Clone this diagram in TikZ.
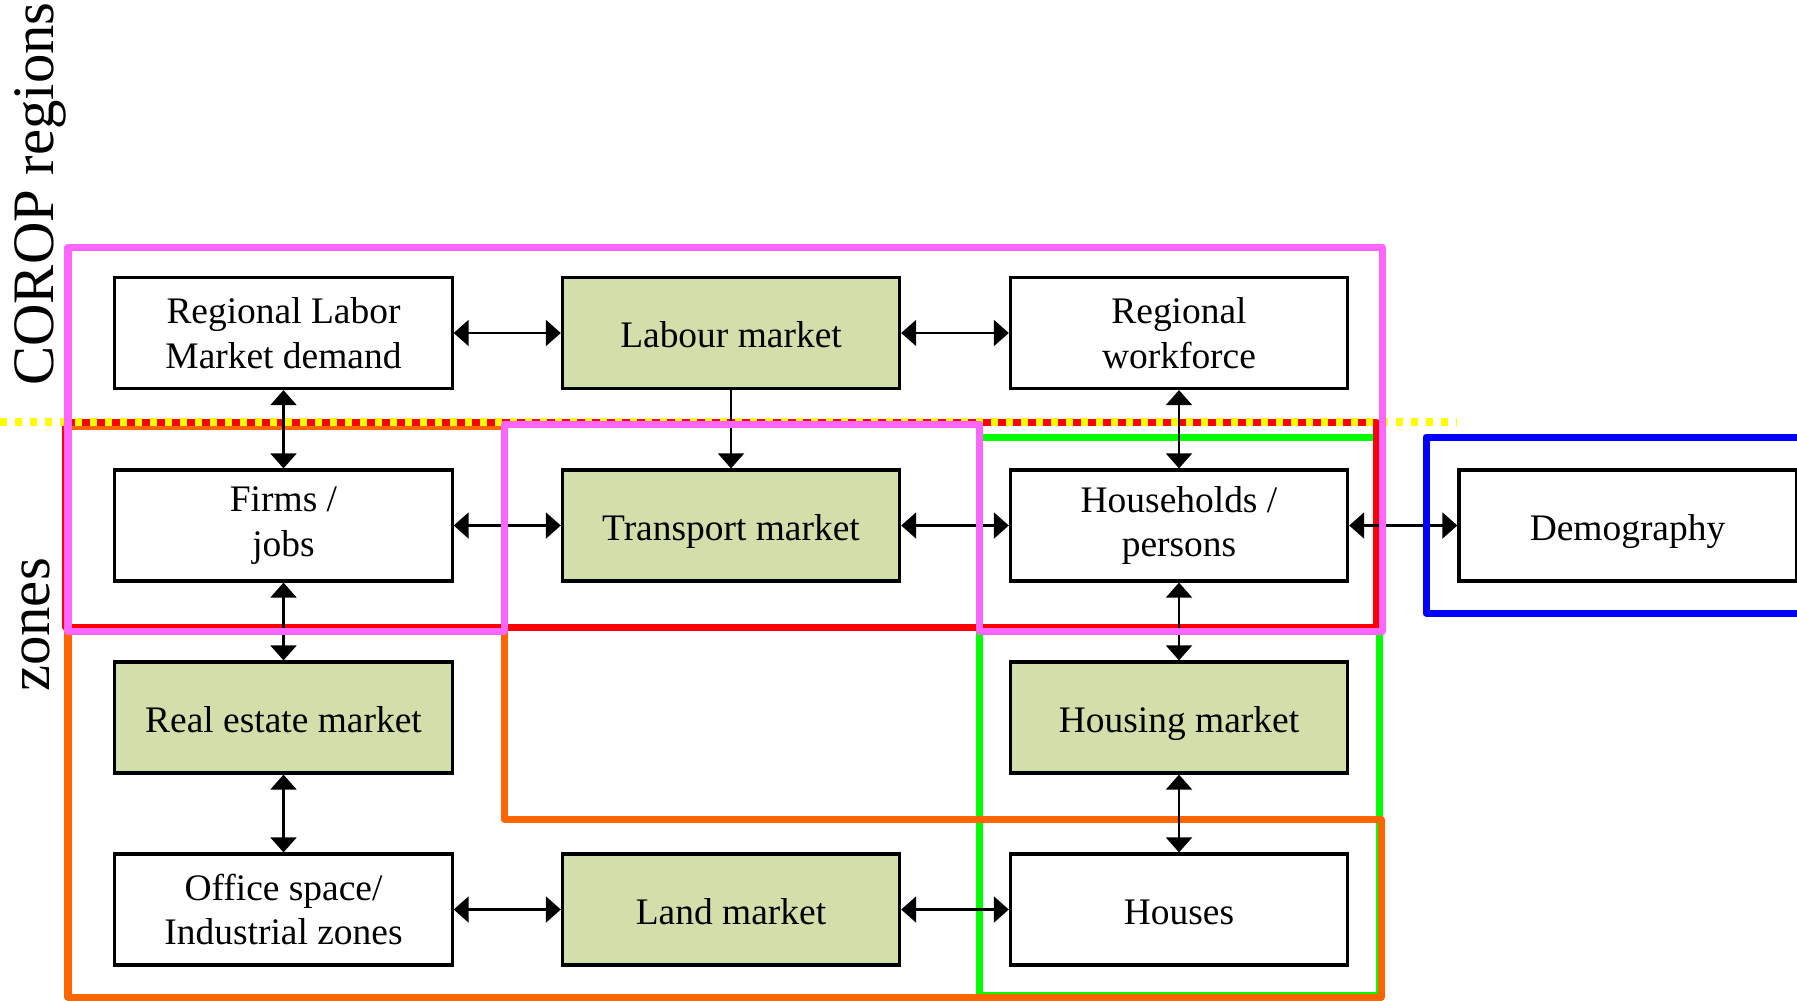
\documentclass[tikz,border=0pt]{standalone}
\usepackage{fontspec}
\setmainfont{Liberation Serif}
\usetikzlibrary{arrows.meta}

\definecolor{mktgreen}{RGB}{211,223,171}
\definecolor{framepink}{RGB}{255,102,255}
\definecolor{frameorange}{RGB}{255,102,0}
\definecolor{framegreen}{RGB}{0,255,0}
\definecolor{frameblue}{RGB}{0,0,255}
\definecolor{frameyellow}{RGB}{255,255,0}
\definecolor{framered}{RGB}{255,0,0}

\begin{document}
\begin{tikzpicture}[x=0.01cm,y=-0.01cm,
  box/.style={draw=black, line width=0.9pt, minimum width=3.37cm, minimum height=1.11cm,
    inner sep=0pt, align=center, font=\fontsize{10.65}{12.7}\selectfont},
  oneline/.style={text height=9pt, text depth=0.6pt},
  market/.style={box, fill=mktgreen},
  plain/.style={box, fill=white},
  tip/.tip={Triangle[length=0.15cm,width=0.26cm]},
  link/.style={line width=0.6pt, tip-tip},
  oneway/.style={line width=0.6pt, -tip},
  frame/.style={line width=0.07cm, line join=round},
  axislabel/.style={rotate=90, anchor=base, inner sep=0pt, font=\fontsize{16.7}{19}\selectfont}]

\useasboundingbox (0,0) rectangle (1797,1000);

% scale labels
\node[axislabel] (corop) at (54,194) {COROP regions};
\node[axislabel] (zones) at (49,625) {zones};

% background frames
\draw[frame, framegreen] (979,437) rectangle (1379,995);
\draw[frame, frameorange] (68,426) -- (504,426) -- (504,819) -- (1381,819)
  -- (1381,997) -- (68,997) -- cycle;
\draw[frame, framered] (66,422) rectangle (1376,627);
\draw[line width=0.075cm, frameyellow, dash pattern=on 0.07cm off 0.08cm]
  (0,422) -- (1456,422);

% boxes
\node[plain]  (rlmd)   at (283.5,333)  {Regional Labor\\Market demand};
\node[market, oneline] (labour) at (731,333) {Labour market};
\node[plain]  (work)   at (1179,333)   {Regional\\workforce};
\node[plain]  (firms)  at (283.5,525.5) {Firms /\\jobs};
\node[market, oneline] (trans) at (731,525.5) {Transport market};
\node[plain]  (hh)     at (1179,525.5) {Households /\\persons};
\node[plain, oneline] (demo) at (1627.5,525.5) {Demography};
\node[market, oneline] (estate) at (283.5,717.5) {Real estate market};
\node[market, oneline] (housing) at (1179,717.5) {Housing market};
\node[plain]  (office) at (283.5,909.5) {Office space/\\Industrial zones};
\node[market, oneline] (land) at (731,909.5) {Land market};
\node[plain, oneline] (houses) at (1179,909.5) {Houses};

% relations
\draw[link] (rlmd) -- (labour);
\draw[link] (labour) -- (work);
\draw[link] (rlmd) -- (firms);
\draw[oneway] (labour) -- (trans);
\draw[link] (work) -- (hh);
\draw[link] (firms) -- (trans);
\draw[link] (trans) -- (hh);
\draw[link] (hh) -- (demo);
\draw[link] (firms) -- (estate);
\draw[link] (hh) -- (housing);
\draw[link] (estate) -- (office);
\draw[link] (housing) -- (houses);
\draw[link] (office) -- (land);
\draw[link] (land) -- (houses);

% foreground frames
\draw[frame, framepink] (68,247) -- (1382,247) -- (1382,631) -- (979,631)
  -- (979,424) -- (504,424) -- (504,631) -- (68,631) -- cycle;
\draw[frame, frameblue] (1810,437) -- (1426,437) -- (1426,613) -- (1810,613);

\end{tikzpicture}
\end{document}
